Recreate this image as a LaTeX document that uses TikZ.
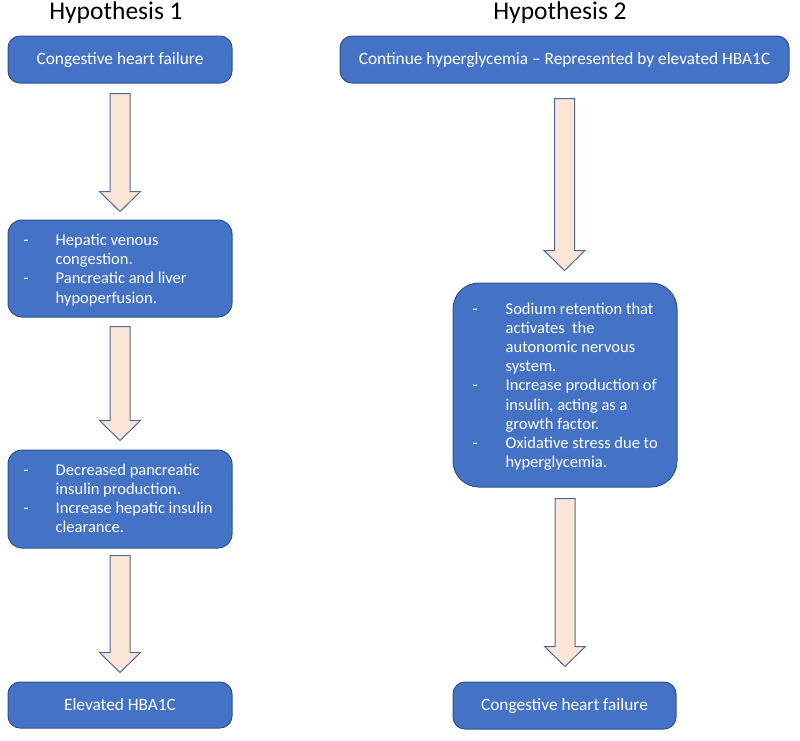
\documentclass[tikz,border=0pt]{standalone}
\usepackage{fontspec}
\setmainfont{Carlito}
\usetikzlibrary{calc}
\definecolor{boxfill}{RGB}{68,114,196}
\definecolor{boxline}{RGB}{47,82,143}
\definecolor{arrfill}{RGB}{251,229,214}
\definecolor{arrline}{RGB}{79,106,150}
\tikzset{
  titletext/.style={font=\fontsize{25.5}{29}\selectfont, text=black, inner sep=0pt, anchor=base},
  bluebox/.style={draw=boxline, fill=boxfill, line width=1pt, rounded corners=12pt, inner sep=0pt},
  boxtext/.style={font=\fontsize{17.3}{20}\selectfont, text=white, inner sep=0pt},
  listtext/.style={font=\fontsize{16.5}{19.2}\selectfont, text=white, inner sep=0pt},
  blockarr/.style={draw=arrline, fill=arrfill, line width=1pt, line join=miter},
}
\newcommand\blockarrow[4]{%
  \path let \p1=(#1.south), \p2=(#2.north) in
    [blockarr] (\x1-10pt,\y1-#3pt) -- (\x1+10pt,\y1-#3pt) -- (\x1+10pt,\y2+#4pt+20pt)
    -- (\x1+20.5pt,\y2+#4pt+20pt) -- (\x1,\y2+#4pt) -- (\x1-20.5pt,\y2+#4pt+20pt)
    -- (\x1-10pt,\y2+#4pt+20pt) -- cycle;}
\begin{document}
\begin{tikzpicture}[x=1pt,y=-1pt]
\useasboundingbox (0,0) rectangle (800,740);
% titles
\node[titletext] (t1) at (116,19.5) {Hypothesis 1};
\node[titletext] (t2) at (560,19.5) {Hypothesis 2};
% left column boxes
\node[bluebox, minimum width=224pt, minimum height=47pt] (a1) at (120,59.5) {};
\node[boxtext] at (a1.center) {Congestive heart failure};
\node[bluebox, minimum width=224pt, minimum height=97pt, rounded corners=14pt] (a2) at (120,268.5) {};
\node[listtext, anchor=west] (a2t) at ([xshift=16pt,yshift=-2pt]a2.west) {%
  \begin{tabular}{@{}p{32pt}@{}p{170pt}@{}}
  - & Hepatic venous\newline congestion.\\
  - & Pancreatic and liver\newline hypoperfusion.
  \end{tabular}};
\node[bluebox, minimum width=224pt, minimum height=98pt, rounded corners=14pt] (a3) at (120,499) {};
\node[listtext, anchor=west] (a3t) at ([xshift=16pt,yshift=-1pt]a3.west) {%
  \begin{tabular}{@{}p{32pt}@{}p{170pt}@{}}
  - & Decreased pancreatic\newline insulin production.\\
  - & Increase hepatic insulin\newline clearance.
  \end{tabular}};
\node[bluebox, minimum width=224pt, minimum height=46pt] (a4) at (120,705) {};
\node[boxtext] at (a4.center) {Elevated HBA1C};
% right column boxes
\node[bluebox, minimum width=449pt, minimum height=47pt] (b1) at (564.5,59.5) {};
\node[boxtext] at (b1.center) {Continue hyperglycemia -- Represented by elevated HBA1C};
\node[bluebox, minimum width=224pt, minimum height=204pt, rounded corners=26pt] (b2) at (565,385) {};
\node[listtext, anchor=west] (b2t) at ([xshift=20pt,yshift=-2pt]b2.west) {%
  \begin{tabular}{@{}p{33pt}@{}p{165pt}@{}}
  - & Sodium retention that\newline activates\ \ the\newline autonomic nervous\newline system.\\
  - & Increase production of\newline insulin, acting as a\newline growth factor.\\
  - & Oxidative stress due to\newline hyperglycemia.
  \end{tabular}};
\node[bluebox, minimum width=223pt, minimum height=47pt] (b3) at (564.5,705.5) {};
\node[boxtext] at (b3.center) {Congestive heart failure};
% block arrows
\blockarrow{a1}{a2}{10}{8}
\blockarrow{a2}{a3}{9}{9}
\blockarrow{a3}{a4}{7}{9}
\blockarrow{b1}{b2}{15}{12}
\blockarrow{b2}{b3}{11}{15}
\end{tikzpicture}
\end{document}
